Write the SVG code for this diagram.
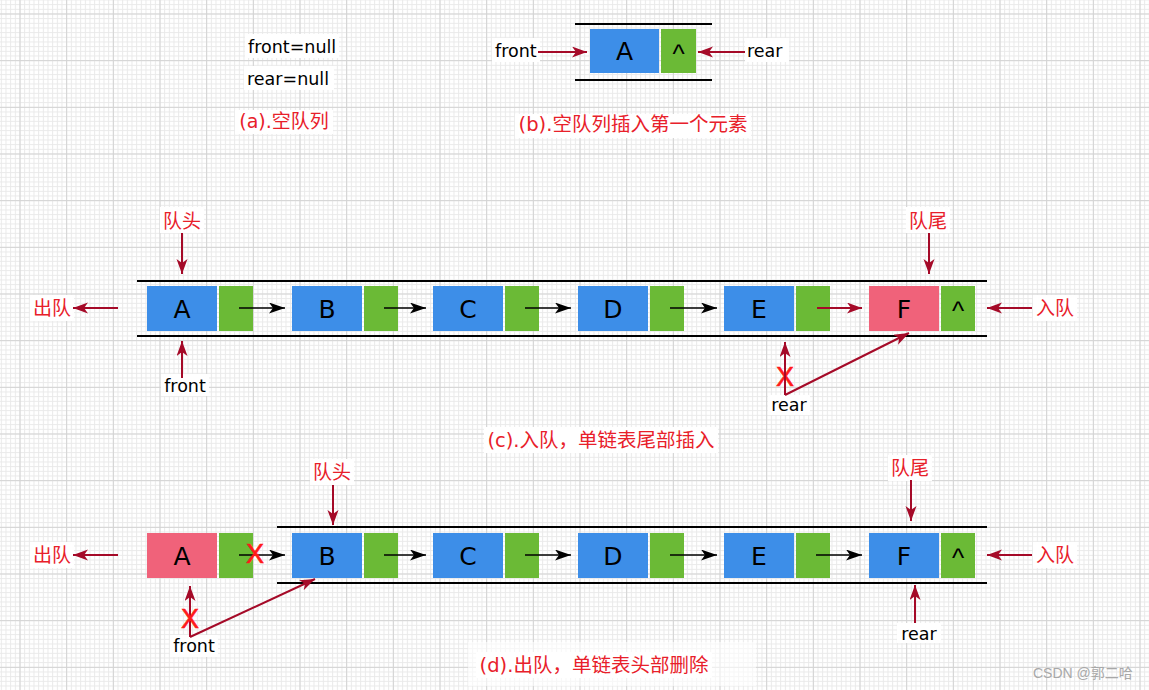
<svg xmlns="http://www.w3.org/2000/svg" width="1149" height="690" viewBox="0 0 1149 690">
<style>
.blue{fill:#3d8ee8}
.green{fill:#6bba36}
.pink{fill:#f0627a}
.let{font-family:"DejaVu Sans",sans-serif;font-size:25px;fill:#000;text-anchor:middle}
.car{font-family:"Liberation Sans",sans-serif;font-size:26px;fill:#000;text-anchor:middle}
.en{font-family:"DejaVu Sans",sans-serif;font-size:17.5px;fill:#000}
.cn{font-family:"DejaVu Sans","Noto Sans CJK SC",sans-serif;font-size:19px;fill:#e8202a}
.cap{font-family:"DejaVu Sans","Noto Sans CJK SC",sans-serif;font-size:19.5px;fill:#e8202a;text-anchor:middle}
.mid{text-anchor:middle}
.bg{fill:#fff}
.rail{stroke:#000;stroke-width:2;fill:none}
.ra{stroke:#a50a28;stroke-width:2;fill:none;marker-end:url(#redh)}
.ba{stroke:#000;stroke-width:1.6;fill:none;marker-end:url(#blkh)}
.x{font-family:"Liberation Sans",sans-serif;font-size:27px;fill:#ff1a1a;stroke:#ff1a1a;stroke-width:0.6;text-anchor:middle}
.wm{font-family:"Liberation Sans","Noto Sans CJK SC",sans-serif;font-size:14px;fill:#a8a8a8}
</style>
<defs>
<pattern id="minor" width="4.6667" height="4.6667" patternUnits="userSpaceOnUse" x="19.5" y="13.5"><path d="M0 0.5H4.6667M0.5 0V4.6667" stroke="#e9e9e9" stroke-width="1" fill="none"/></pattern>
<pattern id="major" width="46.667" height="46.667" patternUnits="userSpaceOnUse" x="19.5" y="13.5"><path d="M0 0.5H46.667M0.5 0V46.667" stroke="#d3d3d3" stroke-width="1" fill="none"/></pattern>
<marker id="redh" markerUnits="userSpaceOnUse" markerWidth="16" markerHeight="12" refX="15" refY="5.5" orient="auto"><path d="M0,0 L15,5.5 L0,11 L4,5.5 Z" fill="#a50a28"/></marker>
<marker id="blkh" markerUnits="userSpaceOnUse" markerWidth="17" markerHeight="12" refX="16" refY="5.5" orient="auto"><path d="M0,0 L16,5.5 L0,11 L4,5.5 Z" fill="#000"/></marker>
</defs>
<rect width="1149" height="690" fill="#fff"/>
<rect width="1149" height="690" fill="url(#minor)"/>
<rect width="1149" height="690" fill="url(#major)"/>

<!-- label backgrounds -->
<g id="label-bgs">
<rect class="bg" x="245" y="34" width="94" height="24"/>
<rect class="bg" x="244" y="66" width="90" height="24"/>
<rect class="bg" x="235" y="110" width="98" height="24"/>
<rect class="bg" x="492" y="38" width="48" height="24"/>
<rect class="bg" x="745" y="38" width="44" height="24"/>
<rect class="bg" x="515" y="114" width="236" height="24"/>
<rect class="bg" x="160" y="207" width="44" height="26"/>
<rect class="bg" x="30" y="295" width="44" height="26"/>
<rect class="bg" x="906" y="207" width="44" height="26"/>
<rect class="bg" x="1033" y="295" width="44" height="26"/>
<rect class="bg" x="161" y="374" width="48" height="22"/>
<rect class="bg" x="768" y="395" width="42" height="20"/>
<rect class="bg" x="484" y="427" width="234" height="26"/>
<rect class="bg" x="310" y="459" width="44" height="26"/>
<rect class="bg" x="30" y="542" width="44" height="26"/>
<rect class="bg" x="888" y="455" width="44" height="26"/>
<rect class="bg" x="1033" y="542" width="44" height="26"/>
<rect class="bg" x="170" y="635" width="48" height="22"/>
<rect class="bg" x="897" y="623" width="44" height="20"/>
<rect class="bg" x="468" y="642" width="288" height="44" opacity="0.6"/>
<rect class="bg" x="476" y="652" width="236" height="26"/>
</g>

<!-- (a) -->
<g id="sec-a">
<text class="en" x="248" y="53">front=null</text>
<text class="en" x="247" y="85">rear=null</text>
<text class="cn" x="284" y="128" text-anchor="middle">(a).空队列</text>
</g>

<!-- (b) -->
<g id="sec-b">
<line class="rail" x1="575" y1="24" x2="712" y2="24"/>
<line class="rail" x1="575" y1="80" x2="712" y2="80"/>
<g id="b-nodeA">
<rect class="blue" x="590" y="29" width="69" height="44"/>
<rect class="green" x="661" y="29" width="35" height="44"/>
<text class="let" x="624.5" y="60">A</text>
<text class="car" x="678.5" y="63">^</text>
</g>
<text class="en" x="495" y="57">front</text>
<text class="en" x="747" y="57">rear</text>
<text class="cap" x="633" y="131">(b).空队列插入第一个元素</text>
</g>

<!-- (c) -->
<g id="sec-c">
<line class="rail" x1="137" y1="281" x2="987" y2="281"/>
<line class="rail" x1="137" y1="336" x2="987" y2="336"/>
<g id="c-nodeA"><rect class="blue" x="147" y="286" width="70" height="45"/><rect class="green" x="219" y="286" width="34" height="45"/><text class="let" x="182" y="317.5">A</text></g>
<g id="c-nodeB"><rect class="blue" x="292" y="286" width="70" height="45"/><rect class="green" x="364" y="286" width="34" height="45"/><text class="let" x="327" y="317.5">B</text></g>
<g id="c-nodeC"><rect class="blue" x="433" y="286" width="70" height="45"/><rect class="green" x="505" y="286" width="34" height="45"/><text class="let" x="468" y="317.5">C</text></g>
<g id="c-nodeD"><rect class="blue" x="578" y="286" width="70" height="45"/><rect class="green" x="650" y="286" width="34" height="45"/><text class="let" x="613" y="317.5">D</text></g>
<g id="c-nodeE"><rect class="blue" x="724" y="286" width="70" height="45"/><rect class="green" x="796" y="286" width="34" height="45"/><text class="let" x="759" y="317.5">E</text></g>
<g id="c-nodeF"><rect class="pink" x="869" y="286" width="70" height="45"/><rect class="green" x="941" y="286" width="34" height="45"/><text class="let" x="904" y="317.5">F</text><text class="car" x="958" y="320">^</text></g>
<text class="cn mid" x="182" y="228">队头</text>
<text class="cn mid" x="52" y="315">出队</text>
<text class="cn mid" x="928" y="228">队尾</text>
<text class="cn mid" x="1055" y="315">入队</text>
<text class="en mid" x="185" y="392">front</text>
<text class="en mid" x="789" y="411">rear</text>
<text class="x" x="785" y="386">X</text>
<text class="cap" x="601" y="447">(c).入队，单链表尾部插入</text>
</g>

<!-- (d) -->
<g id="sec-d">
<line class="rail" x1="277" y1="527" x2="987" y2="527"/>
<line class="rail" x1="277" y1="583" x2="987" y2="583"/>
<g id="d-nodeA"><rect class="pink" x="147" y="533" width="70" height="45"/><rect class="green" x="219" y="533" width="34" height="45"/><text class="let" x="182" y="564.5">A</text></g>
<g id="d-nodeB"><rect class="blue" x="292" y="533" width="70" height="45"/><rect class="green" x="364" y="533" width="34" height="45"/><text class="let" x="327" y="564.5">B</text></g>
<g id="d-nodeC"><rect class="blue" x="433" y="533" width="70" height="45"/><rect class="green" x="505" y="533" width="34" height="45"/><text class="let" x="468" y="564.5">C</text></g>
<g id="d-nodeD"><rect class="blue" x="578" y="533" width="70" height="45"/><rect class="green" x="650" y="533" width="34" height="45"/><text class="let" x="613" y="564.5">D</text></g>
<g id="d-nodeE"><rect class="blue" x="724" y="533" width="70" height="45"/><rect class="green" x="796" y="533" width="34" height="45"/><text class="let" x="759" y="564.5">E</text></g>
<g id="d-nodeF"><rect class="blue" x="869" y="533" width="70" height="45"/><rect class="green" x="941" y="533" width="34" height="45"/><text class="let" x="904" y="564.5">F</text><text class="car" x="958" y="567">^</text></g>
<text class="cn mid" x="332" y="479">队头</text>
<text class="cn mid" x="52" y="562">出队</text>
<text class="cn mid" x="910" y="475">队尾</text>
<text class="cn mid" x="1055" y="562">入队</text>
<text class="en mid" x="194" y="652">front</text>
<text class="en mid" x="919" y="640">rear</text>
<text class="cap" x="594" y="672">(d).出队，单链表头部删除</text>
</g>

<!-- connectors -->
<g id="connectors">
<line class="ra" x1="538" y1="52" x2="587" y2="52"/>
<line class="ra" x1="745" y1="52" x2="698" y2="52"/>

<line class="ra" x1="182" y1="233" x2="182" y2="274"/>
<line class="ra" x1="182" y1="378" x2="182" y2="341"/>
<line class="ra" x1="118" y1="308" x2="73" y2="308"/>
<line class="ra" x1="929" y1="233" x2="929" y2="274"/>
<line class="ra" x1="1032" y1="308" x2="987" y2="308"/>
<line class="ba" x1="239" y1="308" x2="285" y2="308"/>
<line class="ba" x1="384" y1="308" x2="426" y2="308"/>
<line class="ba" x1="525" y1="308" x2="571" y2="308"/>
<line class="ba" x1="670" y1="308" x2="717" y2="308"/>
<line class="ra" x1="817" y1="308" x2="862" y2="308"/>
<line class="ra" x1="785" y1="395" x2="785" y2="342"/>
<line class="ra" x1="785" y1="395" x2="909" y2="333"/>

<line class="ra" x1="333" y1="485" x2="333" y2="525"/>
<line class="ra" x1="118" y1="555" x2="73" y2="555"/>
<line class="ra" x1="911" y1="480" x2="911" y2="521"/>
<line class="ra" x1="1032" y1="555" x2="987" y2="555"/>
<line class="ra" x1="915" y1="623" x2="915" y2="585"/>
<line class="ba" x1="239" y1="555" x2="285" y2="555"/>
<line class="ba" x1="384" y1="555" x2="426" y2="555"/>
<line class="ba" x1="525" y1="555" x2="571" y2="555"/>
<line class="ba" x1="670" y1="555" x2="717" y2="555"/>
<line class="ba" x1="816" y1="555" x2="862" y2="555"/>
<line class="ra" x1="190" y1="637" x2="190" y2="586"/>
<line class="ra" x1="190" y1="637" x2="315" y2="579"/>
</g>

<g id="marks">
<text class="x" x="255" y="563">X</text>
<text class="x" x="190" y="628">X</text>
</g>

<text class="wm" x="1033" y="678">CSDN @郭二哈</text>
</svg>
